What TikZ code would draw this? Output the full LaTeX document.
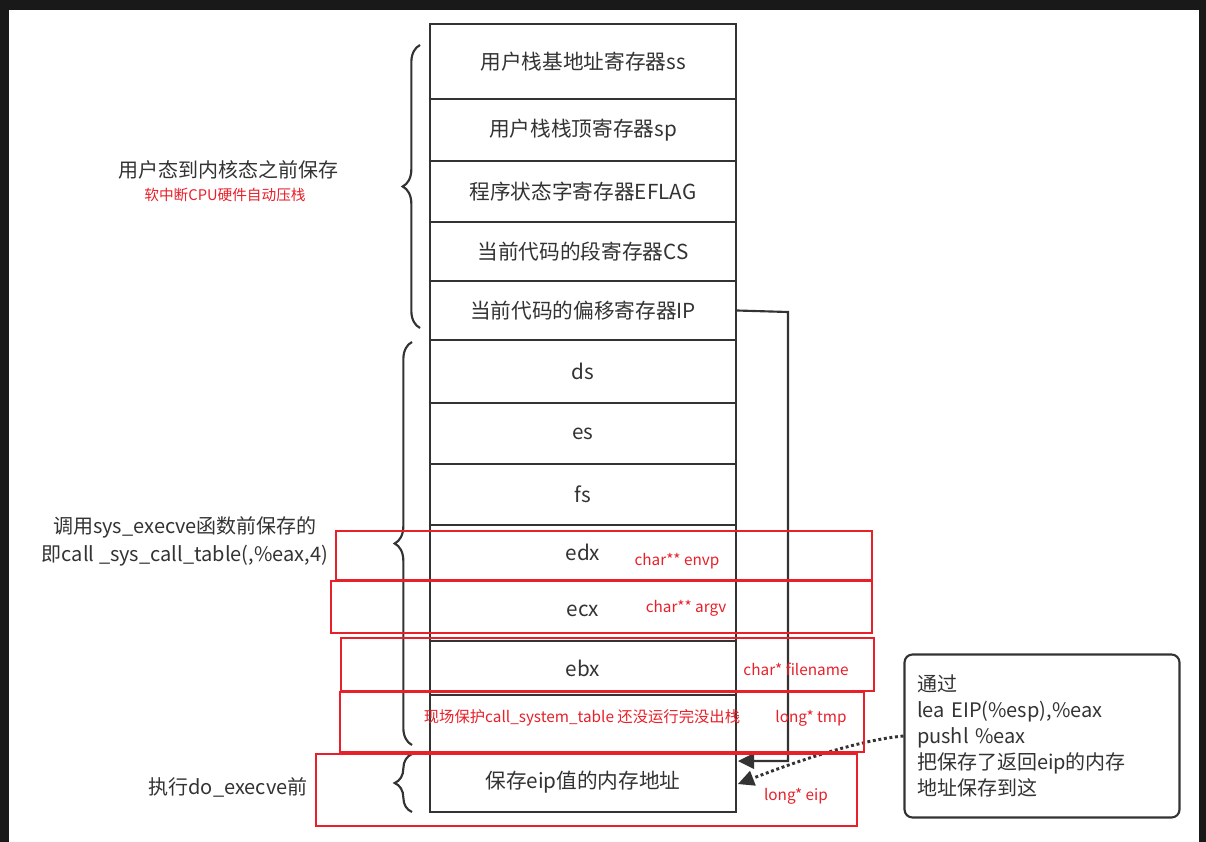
\documentclass[tikz,border=0pt]{standalone}
\usepackage{fontspec}
\setmainfont{Noto Sans CJK SC}
\usetikzlibrary{decorations.pathreplacing,arrows.meta}
\definecolor{tx}{HTML}{333333}
\definecolor{rd}{HTML}{E8202A}
\tikzset{cell/.style={draw=tx,line width=1.6pt,minimum width=306*0.75pt,inner sep=0pt,font=\fontsize{15.5}{17}\selectfont,text=tx},
 rbox/.style={draw=rd,line width=1.3pt},
 rtxt/.style={text=rd,font=\fontsize{11.5}{13}\selectfont,inner sep=0pt},
 lbl/.style={text=tx,font=\fontsize{15}{17}\selectfont,inner sep=0pt,align=left},
 brc/.style={draw=tx,line width=1.6pt,decorate,decoration={brace,amplitude=13pt}},
 bigarrow/.style={arrows={-Triangle[length=12pt,width=12pt,line width=0pt]}}}
\begin{document}
\begin{tikzpicture}[x=0.75pt,y=-0.75pt]
\useasboundingbox (0,0) rectangle (1206,842);
\fill[black!80!gray] (0,0) rectangle (1206,842);
\fill[white] (9,10) rectangle (1199,842);
\def\rows{24/99/u1/用户栈基地址寄存器ss,99/161/u2/用户栈栈顶寄存器sp,161/222/u3/程序状态字寄存器EFLAG,222/281/u4/当前代码的段寄存器CS,281/340/ip/当前代码的偏移寄存器IP,340/403/ds/ds,403/464/es/es,464/525/fs/fs,525/580/edx/edx,580/641/ecx/ecx,641/695/ebx/ebx,695/752/tmp/{},752/812/eip/保存eip值的内存地址}
\foreach \a/\b/\n/\t in \rows {
  \node[cell,minimum height=(\b-\a)*0.75pt] (\n) at (583,{(\a+\b)/2}) {\t};
}
% braces
\draw[brc] (420,328) -- (420,45);
\draw[brc] (412,745) -- (412,342);
\draw[brc] (412,812) -- (412,754);
\node[lbl] (l1) at (228,170) {用户态到内核态之前保存};
\node[rtxt,font=\fontsize{11}{12}\selectfont] (l1r) at (225,195) {软中断CPU硬件自动压栈};
\node[lbl] (l2) at (185,527) {调用sys\_execve函数前保存的};
\node[lbl] (l3) at (185,556) {即call \_sys\_call\_table(,\%eax,4)};
\node[lbl] (l4) at (228,787) {执行do\_execve前};
% connector from IP
\coordinate (ipr) at (788,312);
\coordinate (ipd) at (788,761);
\coordinate (ipa) at (738,761);
\draw[tx,line width=1.6pt,bigarrow] (ip.east) -- (ipr) -- (ipd) -- (ipa);
% note
\node[draw=tx,line width=1.6pt,rounded corners=6pt,minimum width=275*0.75pt,minimum height=163*0.75pt,text width=250*0.75pt,align=left,text=tx,font=\fontsize{15}{19.5}\selectfont] (note) at (1042,736) {通过\\lea EIP(\%esp),\%eax\\pushl \%eax\\把保存了返回eip的内存\\地址保存到这};
\coordinate (eipa) at (738,784);
\draw[tx,line width=2.2pt,dotted,bigarrow] (note.west) .. controls (860,740) and (800,760) .. (eipa);
% red boxes
\draw[rbox] (336,531) rectangle (872,580);
\draw[rbox] (331,581) rectangle (872,633);
\draw[rbox] (341,638) rectangle (874,691);
\draw[rbox] (340,692) rectangle (864,752);
\draw[rbox] (316,754) rectangle (857,826);
\node[rtxt] (r1) at (677,561) {char** envp};
\node[rtxt] (r2) at (686,608) {char** argv};
\node[rtxt] (r3) at (796,669) {char* filename};
\node[rtxt] (r4) at (811,718) {long* tmp};
\node[rtxt] (r5) at (582,718) {现场保护call\_system\_table 还没运行完没出栈};
\node[rtxt] (r6) at (796,796) {long* eip};
\end{tikzpicture}
\end{document}
